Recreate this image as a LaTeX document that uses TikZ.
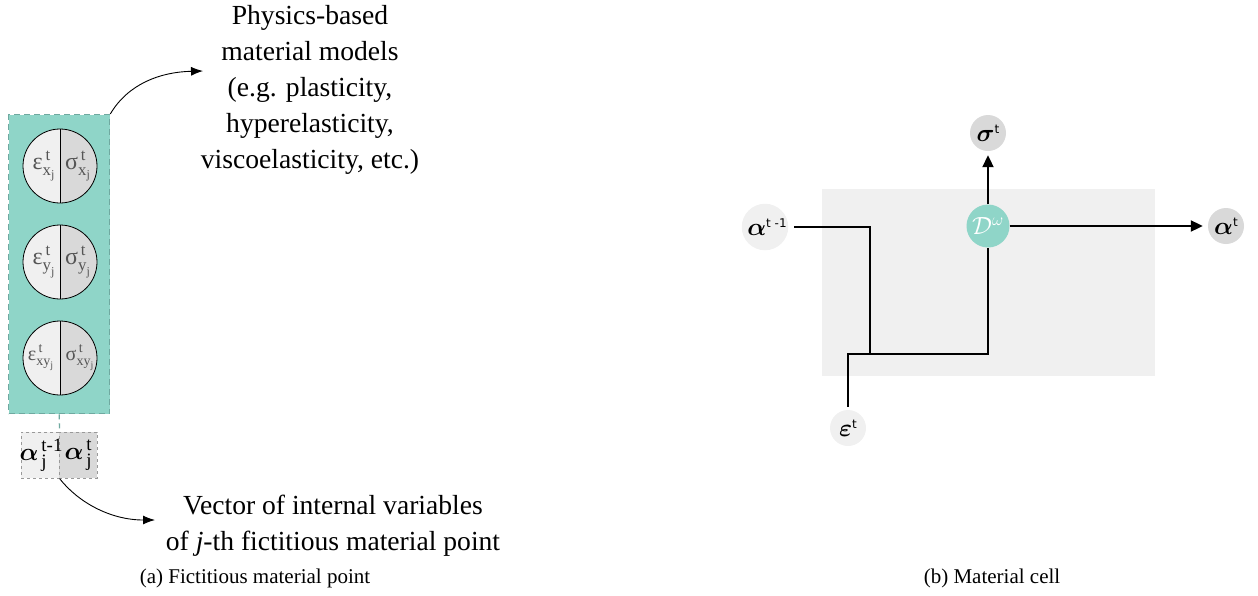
\documentclass[tikz,border=0pt]{standalone}
\usepackage{amsmath}
\usepackage{fontspec}
\setmainfont{Liberation Serif}
\newfontfamily\dvs{DejaVu Sans}
\usetikzlibrary{arrows.meta}
\DeclareSymbolFont{myboldletters}{OML}{cmm}{b}{it}
\DeclareMathSymbol{\balpha}{\mathord}{myboldletters}{"0B}
\DeclareMathSymbol{\bsigma}{\mathord}{myboldletters}{"1B}
\DeclareMathSymbol{\bvareps}{\mathord}{myboldletters}{"22}
\definecolor{tealf}{HTML}{8FD5C8}
\definecolor{tealdash}{HTML}{6FA9A0}
\definecolor{lg}{HTML}{F0F0F0}
\definecolor{dg}{HTML}{D9D9D9}
\definecolor{txtg}{HTML}{555555}
\definecolor{boxdash}{HTML}{999999}
\begin{document}
\begin{tikzpicture}[x=1pt,y=-1pt,
  halfc/.style={circle, draw=black, line width=0.8pt, minimum size=74pt, inner sep=0pt,
    path picture={
      \fill[lg] (path picture bounding box.north west) rectangle (path picture bounding box.south);
      \fill[dg] (path picture bounding box.north) rectangle (path picture bounding box.south east);
      \draw[line width=0.8pt] (path picture bounding box.north) -- (path picture bounding box.south);}},
  cl/.style={text=txtg, font=\fontsize{24}{24}\selectfont, inner sep=0pt},
  abox/.style={draw=boxdash, dashed, line width=0.6pt, minimum width=38pt, minimum height=46pt, inner sep=0pt, anchor=north west},
  al/.style={font=\fontsize{27}{27}\selectfont, inner sep=0pt},
  bigtxt/.style={align=center, font=\fontsize{27.6}{36}\selectfont, inner sep=0pt},
  capt/.style={font=\fontsize{21}{24}\selectfont, inner sep=0pt},
  curvearr/.style={-{Latex[length=12pt,width=9pt]}, line width=0.9pt},
  rnode/.style={circle, minimum size=36pt, inner sep=0pt, font=\fontsize{23}{23}\selectfont},
  wire/.style={line width=2pt, line join=miter},
  warr/.style={wire, -{Triangle[length=12pt,width=11pt]}}
]
\useasboundingbox (0,0) rectangle (1258,595);

% ---------- (a) fictitious material point ----------
\node[draw=tealdash, dashed, dash pattern=on 6pt off 4pt, line width=1.3pt, fill=tealf,
      minimum width=101pt, minimum height=299pt, inner sep=0pt, anchor=north west] (mp) at (8,114) {};

\node[halfc] (c1) at (60,166) {};
\node[halfc] (c2) at (60,262) {};
\node[halfc] (c3) at (60,358) {};

\node[cl] (e1) at ([xshift=-16pt]c1.center) {$\text{ε}^{\,\text{t}}_{\text{x}_{\text{j}}}$};
\node[cl] (s1) at ([xshift=18pt]c1.center) {$\text{σ}^{\,\text{t}}_{\text{x}_{\text{j}}}$};
\node[cl] (e2) at ([xshift=-16pt]c2.center) {$\text{ε}^{\,\text{t}}_{\text{y}_{\text{j}}}$};
\node[cl] (s2) at ([xshift=18pt]c2.center) {$\text{σ}^{\,\text{t}}_{\text{y}_{\text{j}}}$};
\node[cl, font=\fontsize{20}{20}\selectfont] (e3) at ([xshift=-19pt]c3.center) {$\text{ε}^{\,\text{t}}_{\text{xy}_{\text{j}}}$};
\node[cl, font=\fontsize{20}{20}\selectfont] (s3) at ([xshift=20pt]c3.center) {$\text{σ}^{\,\text{t}}_{\text{xy}_{\text{j}}}$};

\node[abox, fill=lg] (a1) at (21,432) {};
\node[abox, fill=dg] (a2) at (59,432) {};
\node[al] (a1t) at ([xshift=1pt]a1.center) {$\balpha^{\,\text{t-1}}_{\,\text{j}}$};
\node[al] (a2t) at ([xshift=0pt]a2.center) {$\balpha^{\,\text{t}}_{\,\text{j}}$};

\draw[tealdash, dashed, dash pattern=on 5pt off 4pt, line width=1.3pt] (mp.south) -- (a1.north east);

\node[bigtxt] (phys) at (310,90) {Physics-based\\material models\\(e.g. plasticity,\\hyperelasticity,\\viscoelasticity, etc.)};
\coordinate (ptip) at (203,71);
\draw[curvearr] (mp.north east) .. controls (128,84) and (160,72) .. (ptip);

\node[bigtxt] (vec) at (333,526) {Vector of internal variables\\of \textit{j}-th fictitious material point};
\coordinate (vtip) at (155,520);
\draw[curvearr] (a1.south east) .. controls (78,502) and (110,520) .. (vtip);

\node[capt] (capa) at (255,578) {(a) Fictitious material point};

% ---------- (b) material cell ----------
\node[fill=lg, minimum width=333pt, minimum height=187pt, inner sep=0pt, anchor=north west] (cell) at (822,189) {};

\node[rnode, fill=tealf, minimum size=43pt, text=white, font=\fontsize{26}{26}\selectfont] (D) at (988,226) {$\mathcal{D}^{\omega}$};
\node[rnode, fill=dg] (sig) at (988,133) {$\bsigma$\raisebox{8pt}{\dvs\fontsize{12}{12}\selectfont t}};
\node[rnode, fill=lg] (am) at (765,227) {\hspace*{4pt}$\balpha$\raisebox{8pt}{\dvs\fontsize{12}{12}\selectfont t -1}};
\node[rnode, fill=dg] (at) at (1226,226) {$\balpha$\raisebox{8pt}{\dvs\fontsize{12}{12}\selectfont t}};
\node[rnode, fill=lg] (eps) at (848,428) {$\bvareps$\raisebox{8pt}{\dvs\fontsize{12}{12}\selectfont t}};

\coordinate (j1) at (870,354);
\coordinate (j2) at (848,354);

\draw[wire] ([xshift=6pt]am.east) -| (j1);
\draw[wire] ([yshift=3pt]eps.north) -- (j2) -| (D.south);
\draw[warr, shorten >=4pt] (D.north) -- (sig.south);
\draw[warr, shorten >=5pt] (D.east) -- (at.west);

\node[capt] (capb) at (992,578) {(b) Material cell};
\end{tikzpicture}
\end{document}
